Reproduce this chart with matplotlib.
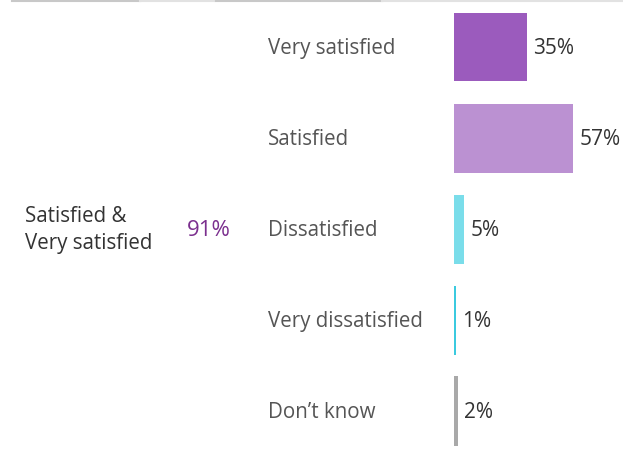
import matplotlib
matplotlib.use('Agg')
import matplotlib.pyplot as plt
from matplotlib.transforms import blended_transform_factory, offset_copy
from matplotlib.lines import Line2D

categories = ['Very satisfied', 'Satisfied', 'Dissatisfied', 'Very dissatisfied', 'Don\u2019t know']
values = [35, 57, 5, 1, 2]
colors = ['#9b5bbd', '#bb91d2', '#7addea', '#3bcadf', '#a9a9a9']
group_label = 'Satisfied &\nVery satisfied'
group_value = '91%'

plt.rcParams['font.family'] = ['Open Sans', 'DejaVu Sans']

W, H = 623, 452
fig = plt.figure(figsize=(W / 100, H / 100), dpi=100)
fig.patch.set_facecolor('white')

# bars axis: 0% at x=454px, ~2.09 px per percent
ax = fig.add_axes([454 / W, 0, 167 / W, 1])
ax.set_xlim(0, 80)
pitch = 91.0
top = 48.0
ax.set_ylim((H - top) / pitch, -top / pitch)
ax.axis('off')

ypos = list(range(len(categories)))
ax.barh(ypos, values, height=69 / pitch, color=colors)

for y, v in zip(ypos, values):
    ax.annotate(f'{v}%', (v, y), xytext=(4.5, -0.7), textcoords='offset points',
                va='center', ha='left', fontsize=15, color='#333333')

tr = blended_transform_factory(fig.transFigure, ax.transData)
tr = offset_copy(tr, fig=fig, y=-1, units='dots')
for y, c in zip(ypos, categories):
    ax.text(268 / W, y, c, transform=tr, va='center', ha='left',
            fontsize=14.8, color='#555555')

fig.text(25 / W, 1 - 230 / H, group_label, va='center', ha='left',
         fontsize=14.8, color='#333333', linespacing=1.35)
fig.text(187 / W, 1 - 231 / H, group_value, va='center', ha='left',
         fontsize=16, color='#7b2f8e')

# header rules along the top
yl = 1 - 1.5 / H
for x0, x1, c in [(12, 140, '#c8c8c8'), (140, 214, '#e2e2e2'),
                  (216, 382, '#c8c8c8'), (382, 623, '#e2e2e2')]:
    fig.add_artist(Line2D([x0 / W, x1 / W], [yl, yl], transform=fig.transFigure,
                          color=c, lw=1.5))

fig.savefig('out.png', dpi=100, facecolor='white')
